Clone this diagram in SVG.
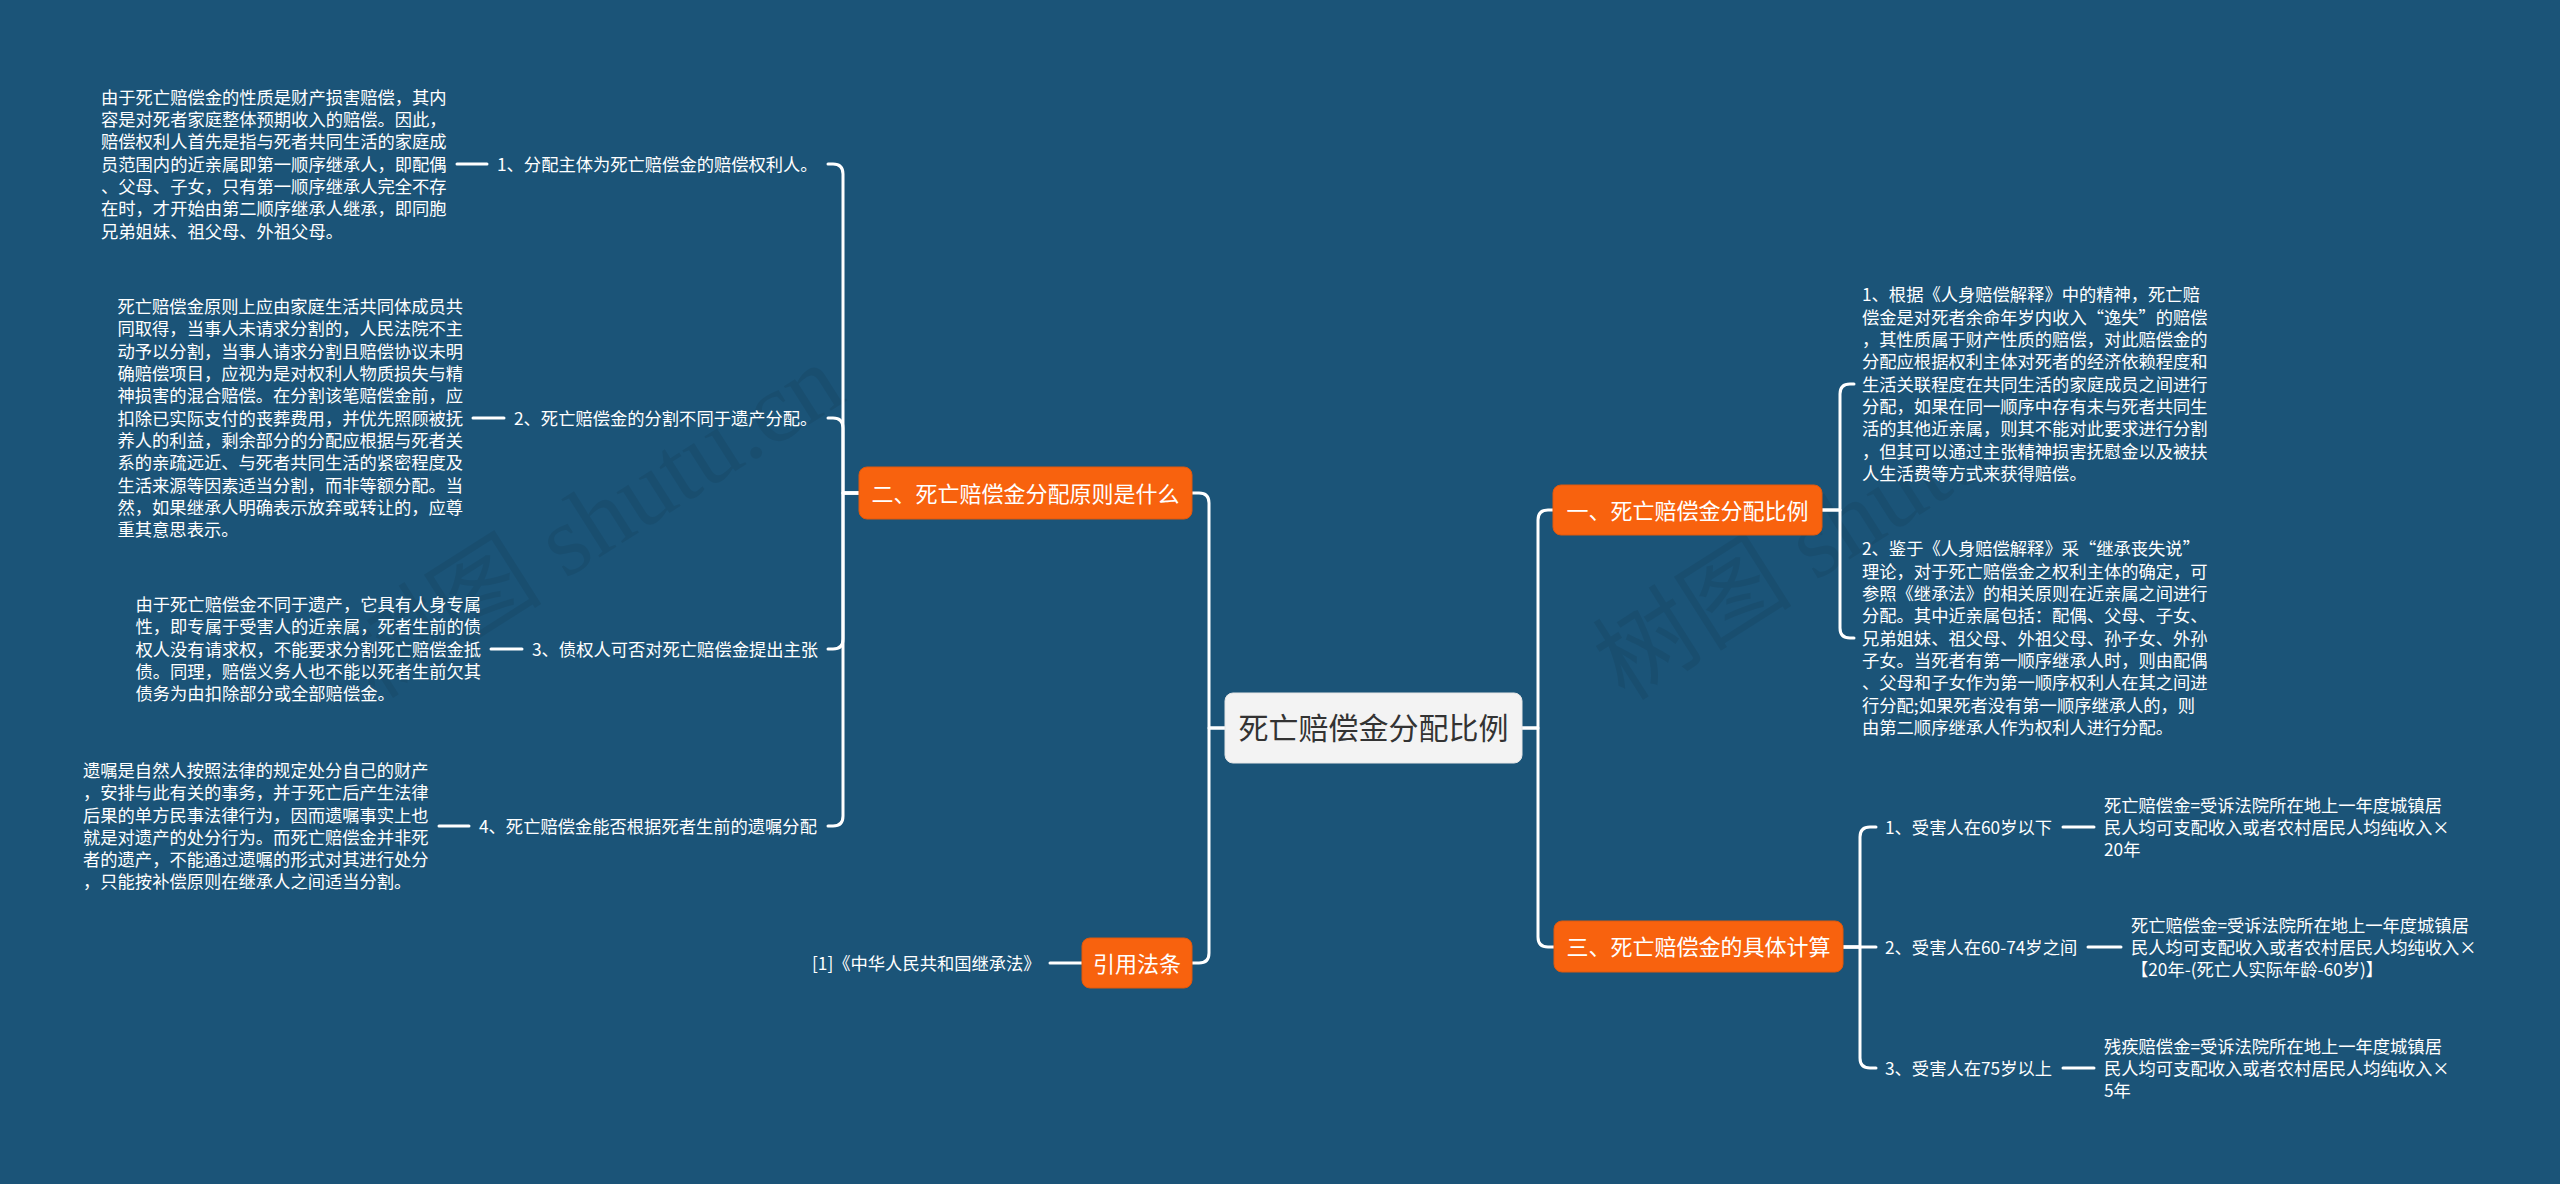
<svg xmlns="http://www.w3.org/2000/svg" width="2560" height="1184" viewBox="0 0 2560 1184">
<style>
.bg{fill:#1b5478}
.t{font-family:"Noto Sans CJK SC","Noto Sans",sans-serif;font-size:17.3px;fill:#ffffff}
.b{font-family:"Noto Sans CJK SC","Noto Sans",sans-serif;font-size:22px;fill:#ffffff}
.c{font-family:"Noto Sans CJK SC","Noto Sans",sans-serif;font-size:30px;fill:#333333}
.on{fill:#f8620e;stroke:#e0580c;stroke-width:1}
.cn{fill:#f3f3f3;stroke:#e6e6e6;stroke-width:1}
.ln{fill:none;stroke:#ffffff;stroke-width:3;stroke-linecap:round;stroke-linejoin:round}
.wm{font-family:"Liberation Serif","Noto Sans CJK SC",serif;font-size:100px;fill:#000000;fill-opacity:0.07}
</style>
<rect class="bg" x="0" y="0" width="2560" height="1184"/>
<g id="watermarks">
<text class="wm" transform="translate(375,700) rotate(-32.4)">树图 shutu.cn</text>
<text class="wm" transform="translate(1625,702) rotate(-32.4)">树图 shutu.cn</text>
</g>
<g id="connectors">
<path class="ln" d="M1225 728 H1209 V503 Q1209 493 1199 493 H1192"/>
<path class="ln" d="M1225 728 H1209 V953 Q1209 963 1199 963 H1192"/>
<path class="ln" d="M1522 728 H1538 V520 Q1538 510 1548 510 H1553"/>
<path class="ln" d="M1522 728 H1538 V937 Q1538 947 1548 947 H1554"/>
<path class="ln" d="M859 493 H843 V174 Q843 164 833 164 H828"/>
<path class="ln" d="M859 493 H843 V428 Q843 418 833 418 H828"/>
<path class="ln" d="M859 493 H843 V639 Q843 649 833 649 H828"/>
<path class="ln" d="M859 493 H843 V816 Q843 826 833 826 H828"/>
<path class="ln" d="M457 164 H487"/>
<path class="ln" d="M473 418 H504"/>
<path class="ln" d="M491 649 H522"/>
<path class="ln" d="M439 826 H469"/>
<path class="ln" d="M1050 963 H1082"/>
<path class="ln" d="M1822 510 H1840 V394 Q1840 384 1850 384 H1854"/>
<path class="ln" d="M1822 510 H1840 V628 Q1840 638 1850 638 H1854"/>
<path class="ln" d="M1843 947 H1860 V837 Q1860 827 1870 827 H1876"/>
<path class="ln" d="M1843 947 H1876"/>
<path class="ln" d="M1843 947 H1860 V1058 Q1860 1068 1870 1068 H1876"/>
<path class="ln" d="M2063 827 H2094"/>
<path class="ln" d="M2088 947 H2121"/>
<path class="ln" d="M2063 1068 H2094"/>
</g>
<g id="root">
<rect class="cn" x="1225" y="693" width="297" height="70" rx="8"/>
<text class="c" x="1373.5" y="739" text-anchor="middle">死亡赔偿金分配比例</text>
</g>
<g id="branch-2">
<rect class="on" x="859" y="467" width="333" height="52" rx="8"/>
<text class="b" x="1025.5" y="501.5" text-anchor="middle">二、死亡赔偿金分配原则是什么</text>
</g>
<g id="branch-law">
<rect class="on" x="1082" y="938" width="110" height="50" rx="8"/>
<text class="b" x="1137" y="971.5" text-anchor="middle">引用法条</text>
</g>
<g id="branch-1">
<rect class="on" x="1553" y="485" width="269" height="50" rx="8"/>
<text class="b" x="1687.5" y="518.5" text-anchor="middle">一、死亡赔偿金分配比例</text>
</g>
<g id="branch-3">
<rect class="on" x="1554" y="921" width="289" height="51" rx="8"/>
<text class="b" x="1698.5" y="955" text-anchor="middle">三、死亡赔偿金的具体计算</text>
</g>
<g id="law-1">
<text class="t" x="812" y="969.6">[1]《中华人民共和国继承法》</text>
</g>
<g id="left-item-1">
<text class="t" x="497" y="170.6">1、分配主体为死亡赔偿金的赔偿权利人。</text>
</g>
<g id="left-text-1">
<text class="t">
<tspan x="101" y="103.7">由于死亡赔偿金的性质是财产损害赔偿，其内</tspan>
<tspan x="101" y="126">容是对死者家庭整体预期收入的赔偿。因此，</tspan>
<tspan x="101" y="148.3">赔偿权利人首先是指与死者共同生活的家庭成</tspan>
<tspan x="101" y="170.6">员范围内的近亲属即第一顺序继承人，即配偶</tspan>
<tspan x="101" y="192.9">、父母、子女，只有第一顺序继承人完全不存</tspan>
<tspan x="101" y="215.2">在时，才开始由第二顺序继承人继承，即同胞</tspan>
<tspan x="101" y="237.5">兄弟姐妹、祖父母、外祖父母。</tspan>
</text>
</g>
<g id="left-item-2">
<text class="t" x="514" y="424.6">2、死亡赔偿金的分割不同于遗产分配。</text>
</g>
<g id="left-text-2">
<text class="t">
<tspan x="117.5" y="313.1">死亡赔偿金原则上应由家庭生活共同体成员共</tspan>
<tspan x="117.5" y="335.4">同取得，当事人未请求分割的，人民法院不主</tspan>
<tspan x="117.5" y="357.7">动予以分割，当事人请求分割且赔偿协议未明</tspan>
<tspan x="117.5" y="380">确赔偿项目，应视为是对权利人物质损失与精</tspan>
<tspan x="117.5" y="402.3">神损害的混合赔偿。在分割该笔赔偿金前，应</tspan>
<tspan x="117.5" y="424.6">扣除已实际支付的丧葬费用，并优先照顾被抚</tspan>
<tspan x="117.5" y="446.9">养人的利益，剩余部分的分配应根据与死者关</tspan>
<tspan x="117.5" y="469.2">系的亲疏远近、与死者共同生活的紧密程度及</tspan>
<tspan x="117.5" y="491.5">生活来源等因素适当分割，而非等额分配。当</tspan>
<tspan x="117.5" y="513.8">然，如果继承人明确表示放弃或转让的，应尊</tspan>
<tspan x="117.5" y="536.1">重其意思表示。</tspan>
</text>
</g>
<g id="left-item-3">
<text class="t" x="532" y="655.6">3、债权人可否对死亡赔偿金提出主张</text>
</g>
<g id="left-text-3">
<text class="t">
<tspan x="135.5" y="611">由于死亡赔偿金不同于遗产，它具有人身专属</tspan>
<tspan x="135.5" y="633.3">性，即专属于受害人的近亲属，死者生前的债</tspan>
<tspan x="135.5" y="655.6">权人没有请求权，不能要求分割死亡赔偿金抵</tspan>
<tspan x="135.5" y="677.9">债。同理，赔偿义务人也不能以死者生前欠其</tspan>
<tspan x="135.5" y="700.2">债务为由扣除部分或全部赔偿金。</tspan>
</text>
</g>
<g id="left-item-4">
<text class="t" x="479" y="832.6">4、死亡赔偿金能否根据死者生前的遗嘱分配</text>
</g>
<g id="left-text-4">
<text class="t">
<tspan x="83" y="776.9">遗嘱是自然人按照法律的规定处分自己的财产</tspan>
<tspan x="83" y="799.2">，安排与此有关的事务，并于死亡后产生法律</tspan>
<tspan x="83" y="821.5">后果的单方民事法律行为，因而遗嘱事实上也</tspan>
<tspan x="83" y="843.8">就是对遗产的处分行为。而死亡赔偿金并非死</tspan>
<tspan x="83" y="866.1">者的遗产，不能通过遗嘱的形式对其进行处分</tspan>
<tspan x="83" y="888.4">，只能按补偿原则在继承人之间适当分割。</tspan>
</text>
</g>
<g id="right-text-1">
<text class="t">
<tspan x="1862" y="301.4">1、根据《人身赔偿解释》中的精神，死亡赔</tspan>
<tspan x="1862" y="323.7">偿金是对死者余命年岁内收入“逸失”的赔偿</tspan>
<tspan x="1862" y="346">，其性质属于财产性质的赔偿，对此赔偿金的</tspan>
<tspan x="1862" y="368.3">分配应根据权利主体对死者的经济依赖程度和</tspan>
<tspan x="1862" y="390.6">生活关联程度在共同生活的家庭成员之间进行</tspan>
<tspan x="1862" y="412.9">分配，如果在同一顺序中存有未与死者共同生</tspan>
<tspan x="1862" y="435.2">活的其他近亲属，则其不能对此要求进行分割</tspan>
<tspan x="1862" y="457.5">，但其可以通过主张精神损害抚慰金以及被扶</tspan>
<tspan x="1862" y="479.8">人生活费等方式来获得赔偿。</tspan>
</text>
</g>
<g id="right-text-2">
<text class="t">
<tspan x="1862" y="555.4">2、鉴于《人身赔偿解释》采“继承丧失说”</tspan>
<tspan x="1862" y="577.7">理论，对于死亡赔偿金之权利主体的确定，可</tspan>
<tspan x="1862" y="600">参照《继承法》的相关原则在近亲属之间进行</tspan>
<tspan x="1862" y="622.3">分配。其中近亲属包括：配偶、父母、子女、</tspan>
<tspan x="1862" y="644.6">兄弟姐妹、祖父母、外祖父母、孙子女、外孙</tspan>
<tspan x="1862" y="666.9">子女。当死者有第一顺序继承人时，则由配偶</tspan>
<tspan x="1862" y="689.2">、父母和子女作为第一顺序权利人在其之间进</tspan>
<tspan x="1862" y="711.5">行分配;如果死者没有第一顺序继承人的，则</tspan>
<tspan x="1862" y="733.8">由第二顺序继承人作为权利人进行分配。</tspan>
</text>
</g>
<g id="calc-item-1">
<text class="t" x="1885" y="833.6">1、受害人在60岁以下</text>
</g>
<g id="calc-text-1">
<text class="t">
<tspan x="2104" y="811.6">死亡赔偿金=受诉法院所在地上一年度城镇居</tspan>
<tspan x="2104" y="833.6">民人均可支配收入或者农村居民人均纯收入×</tspan>
<tspan x="2104" y="855.6">20年</tspan>
</text>
</g>
<g id="calc-item-2">
<text class="t" x="1885" y="953.6">2、受害人在60-74岁之间</text>
</g>
<g id="calc-text-2">
<text class="t">
<tspan x="2131" y="931.6">死亡赔偿金=受诉法院所在地上一年度城镇居</tspan>
<tspan x="2131" y="953.6">民人均可支配收入或者农村居民人均纯收入×</tspan>
<tspan x="2131" y="975.6">【20年-(死亡人实际年龄-60岁)】</tspan>
</text>
</g>
<g id="calc-item-3">
<text class="t" x="1885" y="1074.6">3、受害人在75岁以上</text>
</g>
<g id="calc-text-3">
<text class="t">
<tspan x="2104" y="1052.6">残疾赔偿金=受诉法院所在地上一年度城镇居</tspan>
<tspan x="2104" y="1074.6">民人均可支配收入或者农村居民人均纯收入×</tspan>
<tspan x="2104" y="1096.6">5年</tspan>
</text>
</g>
</svg>
